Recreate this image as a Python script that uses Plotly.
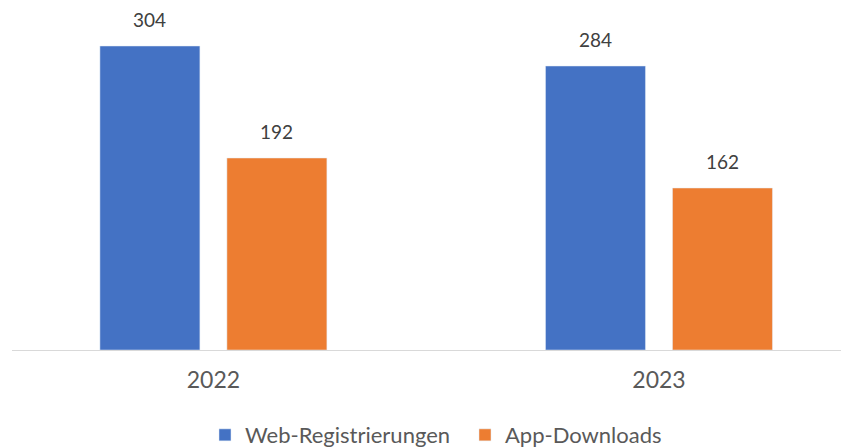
import plotly.graph_objects as go

years = ["2022", "2023"]
web_reg = [304, 284]
app_dl = [192, 162]

font = "Lato, Calibri, Carlito, sans-serif"
bargap = 0.43
x_range = [-0.452, 1.4085]
plot_w = 841 - 12

fig = go.Figure()
fig.add_trace(go.Bar(x=years, y=web_reg, name="Web-Registrierungen",
                     marker_color="#4472C4"))
fig.add_trace(go.Bar(x=years, y=app_dl, name="App-Downloads",
                     marker_color="#ED7D31"))

# data labels above the bars, shifted to the group slot of each series
px_per_cat = plot_w / (x_range[1] - x_range[0])
slot = (1 - bargap) / 2 * px_per_cat
for k, series in enumerate([web_reg, app_dl]):
    for j, v in enumerate(series):
        fig.add_annotation(x=j, y=v, text=str(v), showarrow=False,
                           xref="x", yref="y",
                           xshift=(k - 0.5) * slot, yshift=13,
                           yanchor="bottom",
                           font=dict(size=19, color="#404040", family=font))

fig.update_layout(
    width=841, height=448,
    margin=dict(l=12, r=0, t=0, b=98, autoexpand=False),
    plot_bgcolor="white", paper_bgcolor="white",
    barmode="group", bargap=bargap, bargroupgap=0.2126,
    font=dict(family=font, color="#595959", size=22),
    xaxis=dict(type="category", range=x_range,
               showline=True, linecolor="#D9D9D9", linewidth=1,
               ticks="", ticklabelstandoff=9,
               tickfont=dict(size=23, color="#595959")),
    yaxis=dict(range=[0, 350], visible=False),
    legend=dict(orientation="h", x=0.2328, xanchor="left",
                y=-0.243, yanchor="middle", entrywidth=215,
                font=dict(size=22, color="#595959")),
)

fig.write_html("out.html", config={"displayModeBar": False},
               post_script="document.body.style.margin='0';")
